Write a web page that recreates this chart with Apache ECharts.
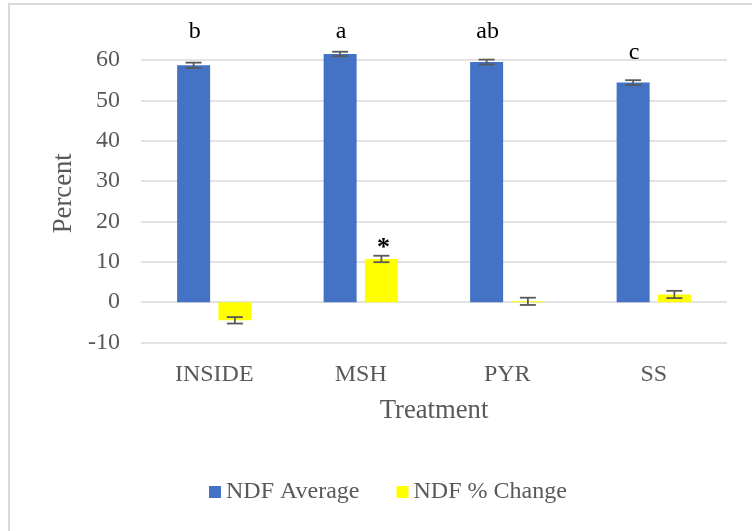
<!DOCTYPE html>
<html>
<head>
<meta charset="utf-8">
<script src="https://cdn.jsdelivr.net/npm/echarts@6/dist/echarts.min.js"></script>
<style>
  html, body { margin: 0; padding: 0; background: #fff; }
  #wrap { position: relative; width: 752px; height: 531px; overflow: hidden; }
  #chart { position: absolute; left: 0; top: 0; width: 752px; height: 531px; }
  #frame { position: absolute; left: 8px; top: 3px; width: 800px; height: 600px;
           border-left: 2px solid #d9d9d9; border-top: 2px solid #d9d9d9; pointer-events: none; }
</style>
</head>
<body>
<div id="wrap"><div id="chart"></div><div id="frame"></div></div>
<script>
// ---- data ----
const categories = ['INSIDE', 'MSH', 'PYR', 'SS'];
const seriesNames = ['NDF Average', 'NDF % Change'];
const ndfAverage = [58.7, 61.5, 59.5, 54.4];
const ndfAverageErr = [0.65, 0.55, 0.6, 0.6];
const ndfChange = [-4.5, 10.7, 0.2, 1.9];
const ndfChangeErr = [0.8, 0.8, 0.9, 0.9];
const groupLetters = ['b', 'a', 'ab', 'c'];
const groupLetterLevel = [67, 67, 67, 61.7];
const changeMarks = ['', '*', '', ''];
const changeMarkLevel = [null, 13.3, null, null];
const yTicks = { min: -10, max: 60, interval: 10 };

// ---- style ----
const FONT = '"Liberation Serif", "Times New Roman", serif';
const GREY = '#595959';
const BAR_W = 33;
const GAP_RATIO = 0.25;
const OFFSET = (BAR_W + BAR_W * GAP_RATIO) / 2;

const chart = echarts.init(document.getElementById('chart'), null, { renderer: 'canvas' });

function errorRenderer(dx) {
  return function (params, api) {
    const i = api.value(0), v = api.value(1), e = api.value(2);
    const top = api.coord([i, v + e]);
    const bot = api.coord([i, v - e]);
    const x = top[0] + dx;
    const hw = 8;
    const style = { stroke: GREY, lineWidth: 1.8 };
    return {
      type: 'group',
      children: [
        { type: 'line', shape: { x1: x, y1: top[1], x2: x, y2: bot[1] }, style: style },
        { type: 'line', shape: { x1: x - hw, y1: top[1], x2: x + hw, y2: top[1] }, style: style },
        { type: 'line', shape: { x1: x - hw, y1: bot[1], x2: x + hw, y2: bot[1] }, style: style }
      ]
    };
  };
}

function textRenderer(dx, texts, opts) {
  return function (params, api) {
    const i = api.value(0), v = api.value(1);
    const p = api.coord([i, v]);
    return {
      type: 'text',
      style: {
        x: p[0] + dx, y: p[1], text: texts[params.dataIndex],
        fill: '#000', font: opts.font, align: 'center', verticalAlign: 'middle'
      }
    };
  };
}

const option = {
  animation: false,
  backgroundColor: '#fff',
  grid: { left: 141, right: 25, top: 60, bottom: 188.5 },
  legend: {
    data: seriesNames,
    left: 204, top: 475,
    itemWidth: 12, itemHeight: 12, itemGap: 37,
    icon: 'rect',
    textStyle: { fontFamily: FONT, fontSize: 24, color: GREY }
  },
  xAxis: {
    type: 'category',
    data: categories,
    name: 'Treatment',
    nameLocation: 'middle',
    nameGap: 55,
    nameTextStyle: { fontFamily: FONT, fontSize: 26.7, color: GREY },
    axisLine: { show: false, onZero: false },
    axisTick: { show: false },
    axisLabel: { fontFamily: FONT, fontSize: 24, color: GREY, margin: 20 }
  },
  yAxis: {
    type: 'value',
    min: yTicks.min, max: yTicks.max, interval: yTicks.interval,
    name: 'Percent',
    nameLocation: 'middle',
    nameGap: 55,
    nameTextStyle: { fontFamily: FONT, fontSize: 26.7, color: GREY, padding: [0, 0, 0, 16] },
    axisLine: { show: false },
    axisTick: { show: false },
    axisLabel: { fontFamily: FONT, fontSize: 24, color: GREY, margin: 21 },
    splitLine: { lineStyle: { color: '#d9d9d9', width: 1.5 } }
  },
  series: [
    {
      name: seriesNames[0], type: 'bar', data: ndfAverage,
      barWidth: BAR_W, barGap: (GAP_RATIO * 100) + '%', clip: false,
      itemStyle: { color: '#4472C4' }
    },
    {
      name: seriesNames[1], type: 'bar', data: ndfChange,
      barWidth: BAR_W, clip: false,
      itemStyle: { color: '#FFFF00' }
    },
    {
      type: 'custom', clip: false, z: 5,
      data: ndfAverage.map((v, i) => [i, v, ndfAverageErr[i]]),
      renderItem: errorRenderer(-OFFSET)
    },
    {
      type: 'custom', clip: false, z: 5,
      data: ndfChange.map((v, i) => [i, v, ndfChangeErr[i]]),
      renderItem: errorRenderer(OFFSET)
    },
    {
      type: 'custom', clip: false, z: 6,
      data: groupLetterLevel.map((v, i) => [i, v]),
      renderItem: textRenderer(-OFFSET + 1, groupLetters, { font: '24px ' + FONT })
    },
    {
      type: 'custom', clip: false, z: 6,
      data: changeMarkLevel.map((v, i) => [i, v]).filter(d => d[1] !== null),
      renderItem: function (params, api) {
        const i = api.value(0), v = api.value(1);
        const p = api.coord([i, v]);
        return {
          type: 'text',
          style: { x: p[0] + OFFSET + 2, y: p[1], text: changeMarks[i], fill: '#000',
                   font: 'bold 26px ' + FONT, align: 'center', verticalAlign: 'middle' }
        };
      }
    }
  ]
};
chart.setOption(option);
</script>
</body>
</html>
